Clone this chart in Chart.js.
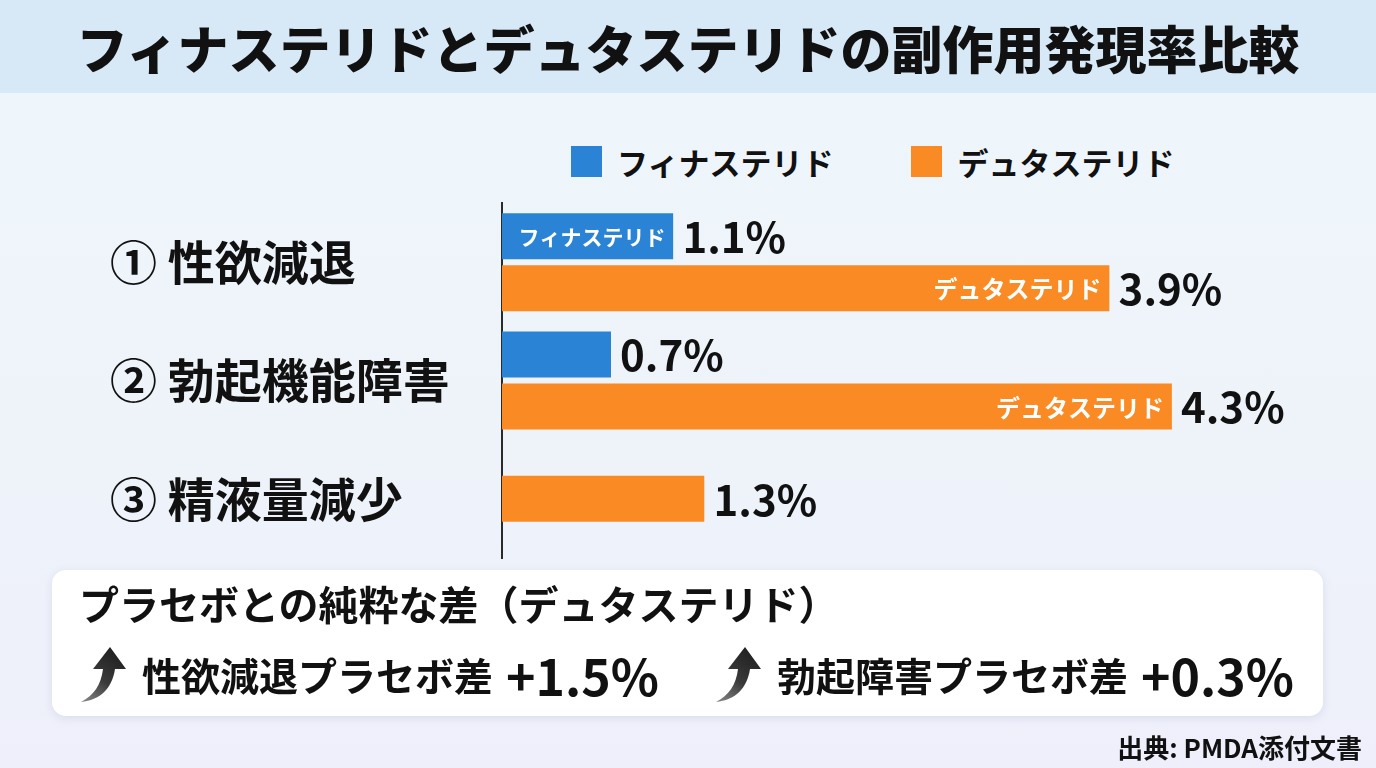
<!DOCTYPE html>
<html lang="ja">
<head>
<meta charset="utf-8">
<script src="https://cdn.jsdelivr.net/npm/chart.js@4.4.1/dist/chart.umd.min.js"></script>
<style>
  html, body { margin: 0; padding: 0; }
  body {
    width: 1376px; height: 768px; overflow: hidden; position: relative;
    background: linear-gradient(180deg, #eef6fb 0%, #eef3fa 60%, #eeeffa 100%);
    font-family: "Noto Sans CJK JP", "Noto Sans", sans-serif;
    color: #111;
  }
  #banner {
    position: absolute; left: 0; top: 0; width: 1376px; height: 93px;
    background: #d7e9f7;
    display: flex; align-items: center; justify-content: center;
    font-size: 51px; font-weight: 900; letter-spacing: 0px; color: #111;
  }
  #legend {
    position: absolute; top: 144px; left: 571px; height: 34px;
    display: flex; align-items: center; font-size: 31px; font-weight: 700;
  }
  .sw { width: 31px; height: 31px; display: inline-block; margin-right: 15px; }
  .li { display: flex; align-items: center; }
  #wrap { position: absolute; left: 0; top: 190px; width: 1376px; height: 380px; }
  #box {
    position: absolute; left: 52px; top: 570px; width: 1271px; height: 146px;
    background: #ffffff; border-radius: 14px;
    box-shadow: 0 2px 8px rgba(120,140,170,0.18);
  }
  #boxTitle { position: absolute; left: 27px; top: 4px; font-size: 40px; font-weight: 700; white-space: nowrap; }
  .row { position: absolute; top: 68px; display: flex; align-items: center; white-space: nowrap; font-weight: 700; }
  .row .lab { font-size: 39px; }
  .row .val { font-size: 50px; margin-left: 13px; }
  .row svg { margin-right: 14px; }
  #src { position: absolute; right: 14px; top: 728px; font-size: 26px; font-weight: 700; }
</style>
</head>
<body>
<div id="banner">フィナステリドとデュタステリドの副作用発現率比較</div>
<div id="legend"></div>
<div id="wrap"><canvas id="c" width="1376" height="380"></canvas></div>
<div id="box">
  <div id="boxTitle">プラセボとの純粋な差（デュタステリド）</div>
  <div class="row" style="left:26px;" id="row1"></div>
  <div class="row" style="left:661px;" id="row2"></div>
</div>
<div id="src">出典: PMDA添付文書</div>
<script>
// ---- data ----
const categories = ["① 性欲減退", "② 勃起機能障害", "③ 精液量減少"];
const seriesNames = ["フィナステリド", "デュタステリド"];
const finasteride = [1.1, 0.7, null];
const dutasteride = [3.9, 4.3, 1.3];
const seriesColors = ["#2a83d4", "#fa8a24"];
// whether the series name is printed inside each bar
const innerNameFin = [true, false, false];
const innerNameDut = [true, true, false];
const placeboLabels = ["性欲減退プラセボ差", "勃起障害プラセボ差"];
const placeboDiffs = ["+1.5%", "+0.3%"];
const xMin = 0, xMax = 5;

// ---- legend (HTML) ----
const legend = document.getElementById('legend');
seriesNames.forEach((n, i) => {
  const d = document.createElement('div');
  d.className = 'li';
  d.style.marginRight = i === 0 ? '78px' : '0';
  d.innerHTML = '<span class="sw" style="background:' + seriesColors[i] + '"></span><span>' + n + '</span>';
  legend.appendChild(d);
});

// ---- placebo rows ----
function arrowSvg(k) {
  return '<svg width="50" height="58" viewBox="0 0 50 58">' +
    '<defs><linearGradient id="ag' + k + '" x1="0" y1="1" x2="0.6" y2="0">' +
    '<stop offset="0" stop-color="#8a8a8a"/><stop offset="0.5" stop-color="#3a3a3a"/><stop offset="1" stop-color="#222"/></linearGradient></defs>' +
    '<path d="M3,57 C16,50 23,40 25,24 L15,24 L32,2 L48,24 L37,24 C34,44 22,55 3,57 Z" fill="url(#ag' + k + ')"/></svg>';
}
['row1', 'row2'].forEach((id, i) => {
  document.getElementById(id).innerHTML = arrowSvg(i) +
    '<span class="lab">' + placeboLabels[i] + '</span><span class="val">' + placeboDiffs[i] + '</span>';
});

// ---- chart ----
const FONT = '"Noto Sans CJK JP", "Noto Sans", sans-serif';
const labelPlugin = {
  id: 'barLabels',
  afterDatasetsDraw(chart) {
    const ctx = chart.ctx;
    const inner = [innerNameFin, innerNameDut];
    chart.data.datasets.forEach((ds, di) => {
      const meta = chart.getDatasetMeta(di);
      meta.data.forEach((bar, i) => {
        const v = ds.data[i];
        if (v === null || v === undefined) return;
        ctx.save();
        ctx.textBaseline = 'middle';
        ctx.fillStyle = '#111';
        ctx.font = 'bold 42px ' + FONT;
        ctx.textAlign = 'left';
        ctx.fillText(v.toFixed(1) + '%', bar.x + 9, bar.y + 1);
        if (inner[di][i]) {
          let size = 24;
          ctx.font = 'bold ' + size + 'px ' + FONT;
          const avail = Math.abs(bar.x - bar.base) - 18;
          const w = ctx.measureText(seriesNames[di]).width;
          if (w > avail) {
            size = Math.floor(size * avail / w);
            ctx.font = 'bold ' + size + 'px ' + FONT;
          }
          ctx.fillStyle = '#ffffff';
          ctx.textAlign = 'right';
          ctx.fillText(seriesNames[di], bar.x - 8, bar.y + 1);
        }
        ctx.restore();
      });
    });
  }
};

new Chart(document.getElementById('c'), {
  type: 'bar',
  data: {
    labels: categories,
    datasets: [
      { label: seriesNames[0], data: finasteride, backgroundColor: seriesColors[0] },
      { label: seriesNames[1], data: dutasteride, backgroundColor: seriesColors[1] }
    ]
  },
  options: {
    indexAxis: 'y',
    responsive: false,
    animation: false,
    devicePixelRatio: 1,
    skipNull: true,
    datasets: {
      bar: {
        barThickness: 52,
        borderWidth: { top: 3, bottom: 3, left: 0, right: 0 },
        borderColor: 'rgba(0,0,0,0)',
        borderSkipped: false,
        inflateAmount: 0
      }
    },
    layout: { padding: { left: 110, right: 95, top: 13, bottom: 12 } },
    plugins: { legend: { display: false }, tooltip: { enabled: false } },
    scales: {
      x: { display: false, min: xMin, max: xMax },
      y: {
        afterFit(scale) { scale.width = 392; scale.paddingTop = 0; scale.paddingBottom = 0; },
        grid: { display: false },
        border: { display: true, color: '#2a2a2a', width: 2 },
        ticks: {
          crossAlign: 'far',
          color: '#111',
          padding: 0,
          font: { family: FONT, size: 47, weight: 'bold' }
        }
      }
    }
  },
  plugins: [labelPlugin]
});
</script>
</body>
</html>
